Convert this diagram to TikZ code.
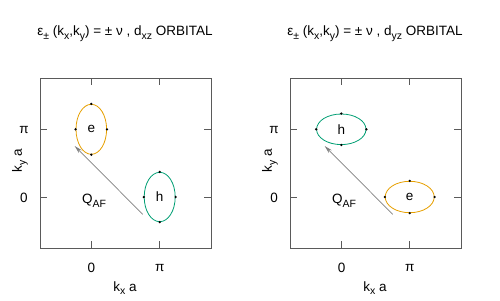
\documentclass[tikz,border=0pt]{standalone}
\usepackage{fontspec}
\setmainfont{Liberation Sans}
\usetikzlibrary{shapes.geometric,arrows.meta}
\definecolor{gpOrange}{RGB}{230,159,0}
\definecolor{gpGreen}{RGB}{0,158,115}
\definecolor{frameGray}{RGB}{90,90,90}
\definecolor{arrGray}{RGB}{128,128,128}
\newcommand{\gsb}[1]{\raisebox{-0.28em}{\fontsize{10.5}{11}\selectfont #1}}
\begin{document}
\begin{tikzpicture}[x=1pt,y=-1pt,
  frame/.style={draw=frameGray,line width=0.7pt,rectangle,inner sep=0pt,minimum width=170.4pt,minimum height=170pt,anchor=north west},
  tickmark/.style={draw=frameGray,line width=0.7pt},
  orb/.style={ellipse,inner sep=0pt,line width=0.8pt,font=\fontsize{13.5}{15}\selectfont},
  eorb/.style={orb,draw=gpOrange},
  horb/.style={orb,draw=gpGreen},
  lbl/.style={font=\fontsize{13.5}{15}\selectfont,inner sep=0pt},
  ttl/.style={font=\fontsize{13.5}{15}\selectfont,inner sep=0pt},
  qarrow/.style={draw=arrGray,line width=0.7pt,-{Stealth[length=8pt,width=4pt,fill=arrGray]}},
  dot/.style={circle,fill=black,inner sep=0pt,minimum size=2.6pt}]
\path[use as bounding box] (0,0) rectangle (500,300);

% ---------- left panel ----------
\node[ttl] (titleL) at (125,34) {ε\gsb{±} (k\gsb{x},k\gsb{y}) = ± ν , d\gsb{xz} ORBITAL};
\node[frame] (boxL) at (40.3,78.3) {};
\foreach \xx in {91.3,159.7}{
  \draw[tickmark] (\xx,248.3) -- (\xx,241.3);
  \draw[tickmark] (\xx,78.3) -- (\xx,85.3);}
\foreach \yy in {129.3,197}{
  \draw[tickmark] (40.3,\yy) -- (47.3,\yy);
  \draw[tickmark] (210.7,\yy) -- (203.7,\yy);}
\node[lbl] (x0L) at (91.5,268) {0};
\node[lbl] (xpL) at (159.7,268) {π};
\node[lbl] (y0L) at (24,197.5) {0};
\node[lbl] (ypL) at (24,129.5) {π};
\node[lbl] (xlabL) at (125,288) {k\gsb{x} a};
\node[lbl,rotate=90] (ylabL) at (20,161) {k\gsb{y} a};
\node[eorb,minimum width=30.6pt,minimum height=50pt] (eL) at (91.3,129.3) {e};
\node[horb,minimum width=31pt,minimum height=49.4pt] (hL) at (159.7,197) {h};
\foreach \a in {north,south,east,west}{
  \node[dot] (eL-\a) at (eL.\a) {};
  \node[dot] (hL-\a) at (hL.\a) {};}
\coordinate (qsL) at (142.7,214.3);
\coordinate (qeL) at (74.7,146);
\draw[qarrow] (qsL) -- (qeL);
\node[lbl] (qL) at (94,201) {Q\gsb{AF}};

% ---------- right panel ----------
\node[ttl] (titleR) at (375,34) {ε\gsb{±} (k\gsb{x},k\gsb{y}) = ± ν , d\gsb{yz} ORBITAL};
\node[frame] (boxR) at (290.3,78.3) {};
\foreach \xx in {341.3,409.7}{
  \draw[tickmark] (\xx,248.3) -- (\xx,241.3);
  \draw[tickmark] (\xx,78.3) -- (\xx,85.3);}
\foreach \yy in {129.3,197}{
  \draw[tickmark] (290.3,\yy) -- (297.3,\yy);
  \draw[tickmark] (460.7,\yy) -- (453.7,\yy);}
\node[lbl] (x0R) at (341.5,268) {0};
\node[lbl] (xpR) at (409.7,268) {π};
\node[lbl] (y0R) at (274,197.5) {0};
\node[lbl] (ypR) at (274,129.5) {π};
\node[lbl] (xlabR) at (375,288) {k\gsb{x} a};
\node[lbl,rotate=90] (ylabR) at (270,161) {k\gsb{y} a};
\node[horb,minimum width=49.4pt,minimum height=30.6pt] (hR) at (341.3,129.3) {h};
\node[eorb,minimum width=49pt,minimum height=31.4pt] (eR) at (409.7,197) {e};
\foreach \a in {north,south,east,west}{
  \node[dot] (hR-\a) at (hR.\a) {};
  \node[dot] (eR-\a) at (eR.\a) {};}
\coordinate (qsR) at (392.7,214.3);
\coordinate (qeR) at (324.7,146);
\draw[qarrow] (qsR) -- (qeR);
\node[lbl] (qR) at (344,201) {Q\gsb{AF}};
\end{tikzpicture}
\end{document}
